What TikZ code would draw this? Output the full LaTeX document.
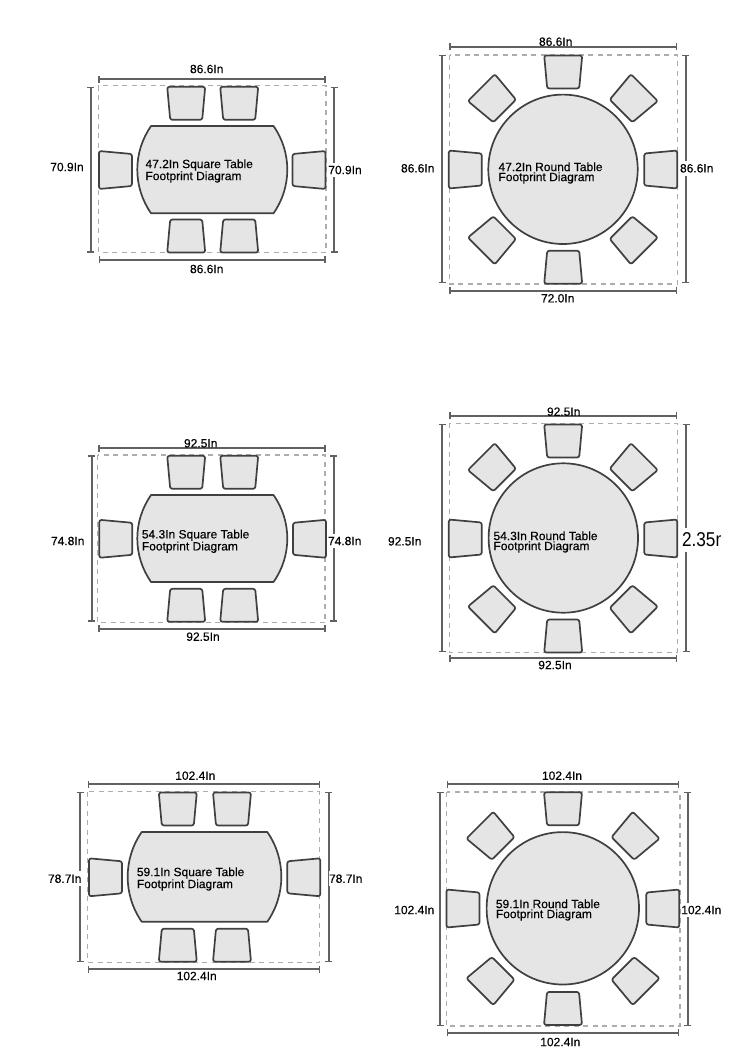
\documentclass[tikz,border=0pt]{standalone}
\usepackage{fontspec}
\setmainfont{Liberation Sans}
\newfontfamily\lblfont[FakeBold=0.25]{Liberation Sans}
\usetikzlibrary{arrows.meta}
\tikzset{
  x=1pt,y=-1pt,
  furn/.style={draw=black!75,fill=black!10,line width=1.7pt,line join=round},
  seat/.style={furn,rounded corners=2.2pt},
  frameline/.style={draw=black!32,line width=1.5pt,dash pattern=on 5pt off 4.5pt},
  dimline/.style={draw=black!62,line width=1.8pt,{Bar[width=7pt,line width=1.4pt]}-{Bar[width=7pt,line width=1.4pt]}},
  dimtext/.style={font=\lblfont\fontsize{12}{12}\selectfont,text=black,inner sep=0.5pt},
  sidetext/.style={dimtext,fill=white,inner ysep=3pt},
  squaretext/.style={anchor=west,align=left,inner sep=0pt,text=black,font=\lblfont\fontsize{12}{12}\selectfont},
  roundtext/.style={anchor=west,align=left,inner sep=0pt,text=black,font=\lblfont\fontsize{12}{10}\selectfont},
}
\newcommand{\seatat}[3]{%
  \begin{scope}[shift={(#1,#2)},rotate=#3]
    \path[seat] (-19,-16.5) -- (19,-16.5) -- (16,16.5) -- (-16,16.5) -- cycle;
  \end{scope}}
% frame: x1 x2 y1 y2
\newcommand{\footframe}[4]{\draw[frameline] (#1,#3) rectangle (#2,#4);}
% name, x1, x2, y
\newcommand{\hdim}[4]{%
  \coordinate (#1a) at (#2,#4);
  \coordinate (#1b) at (#3,#4);
  \draw[dimline] (#1a) -- (#1b);}
% name, x, y1, y2
\newcommand{\vdim}[4]{%
  \coordinate (#1a) at (#2,#3);
  \coordinate (#1b) at (#2,#4);
  \draw[dimline] (#1a) -- (#1b);}
% square table: name, cx, y1, y2, half flat, half extreme control
\newcommand{\longtable}[6]{%
  \path[furn] (#2-#5,#3) -- (#2+#5,#3)
    .. controls (#2+#6,#3+0.30*#4-0.30*#3) and (#2+#6,#3+0.70*#4-0.70*#3) .. (#2+#5,#4)
    -- (#2-#5,#4)
    .. controls (#2-#6,#3+0.70*#4-0.70*#3) and (#2-#6,#3+0.30*#4-0.30*#3) .. (#2-#5,#3) -- cycle;}
\begin{document}
\begin{tikzpicture}
\path[use as bounding box,fill=white] (0,0) rectangle (750,1060);

%% ---------- Square 47.2
\footframe{98.3}{326}{85.7}{252.5}
\hdim{sa1t}{98.3}{325.7}{79.3}
\hdim{sa1b}{98.7}{325.7}{259.7}
\vdim{sa1l}{90.7}{86.7}{252.7}
\vdim{sa1r}{334.3}{87}{252.7}
\seatat{186.2}{103.3}{0}\seatat{239.2}{103.3}{0}
\seatat{186.2}{236}{180}\seatat{239.2}{236}{180}
\seatat{115.5}{170}{90}\seatat{309}{170}{-90}
\longtable{sa1}{212.3}{126}{213.3}{61.2}{79.6}
\node[squaretext] (sa1txt) at (145.3,171) {47.2In Square Table\\Footprint Diagram};
\node[dimtext] (sa1lt) at (206.7,69) {86.6In};
\node[dimtext] (sa1lb) at (206.7,269) {86.6In};
\node[sidetext] (sa1ll) at (67,167) {70.9In};
\node[sidetext] (sa1lr) at (345,170) {70.9In};

%% ---------- Round 47.2
\footframe{449.7}{677.3}{55}{284}
\hdim{ra1t}{449.3}{677}{46.7}
\hdim{ra1b}{449.3}{677}{290.7}
\vdim{ra1l}{442.3}{55}{283.3}
\vdim{ra1r}{685.7}{55}{283.3}
\seatat{563.2}{72}{0}\seatat{563.2}{267.2}{180}
\seatat{465.3}{169.5}{90}\seatat{660.7}{169.5}{-90}
\seatat{493}{99.3}{45}\seatat{632.7}{99.3}{-45}
\seatat{493}{239.3}{135}\seatat{632.7}{239.3}{-135}
\node[furn,circle,minimum size=149.4pt,inner sep=0pt] (ra1) at (563,169.3) {};
\node[roundtext] (ra1txt) at (498.3,173) {47.2In Round Table\\Footprint Diagram};
\node[dimtext] (ra1lt) at (555.7,41.7) {86.6In};
\node[dimtext] (ra1lb) at (557.7,298.3) {72.0In};
\node[sidetext] (ra1ll) at (417.7,168.3) {86.6In};
\node[sidetext] (ra1lr) at (696.7,168.3) {86.6In};

%% ---------- Square 54.3
\footframe{97.7}{325}{455}{622.7}
\hdim{sb1t}{98.3}{325.7}{448}
\hdim{sb1b}{98.3}{325.7}{628.7}
\vdim{sb1l}{91.7}{455.3}{621.7}
\vdim{sb1r}{333.7}{455.3}{621.7}
\seatat{186.2}{472.3}{0}\seatat{239.2}{472.3}{0}
\seatat{186.2}{605.3}{180}\seatat{239.2}{605.3}{180}
\seatat{115.8}{538.8}{90}\seatat{309.5}{538.8}{-90}
\longtable{sb1}{212.3}{495}{582}{61.2}{79.6}
\node[squaretext] (sb1txt) at (141.7,541.3) {54.3In Square Table\\Footprint Diagram};
\node[dimtext] (sb1lt) at (200.7,443.3) {92.5In};
\node[dimtext] (sb1lb) at (203,636.7) {92.5In};
\node[sidetext] (sb1ll) at (67.7,541) {74.8In};
\node[sidetext] (sb1lr) at (344.7,541) {74.8In};

%% ---------- Round 54.3
\footframe{449.3}{677.3}{423.3}{652.3}
\hdim{rb1t}{449.3}{677}{415.7}
\hdim{rb1b}{449.3}{677}{658.3}
\vdim{rb1l}{442}{424}{652}
\vdim{rb1r}{686}{424}{652}
\seatat{563.2}{441}{0}\seatat{563.2}{636}{180}
\seatat{465.3}{538.5}{90}\seatat{660.7}{538.5}{-90}
\seatat{493}{468.3}{45}\seatat{632.7}{468.3}{-45}
\seatat{493}{608.3}{135}\seatat{632.7}{608.3}{-135}
\node[furn,circle,minimum size=149.4pt,inner sep=0pt] (rb1) at (563.3,538) {};
\node[roundtext] (rb1txt) at (493.3,542) {54.3In Round Table\\Footprint Diagram};
\node[dimtext] (rb1lt) at (563.7,411.7) {92.5In};
\node[dimtext] (rb1lb) at (555,665) {92.5In};
\node[sidetext] (rb1ll) at (404.7,541.3) {92.5In};
\begin{scope}
  \clip (679,515) rectangle (720.5,560);
  \node[anchor=west,fill=white,inner xsep=1pt,inner ysep=5pt,xscale=0.86,text=black,font=\fontsize{20}{20}\selectfont] (rb1lr) at (681,540) {2.35m};
\end{scope}

%% ---------- Square 59.1
\footframe{87.7}{319.3}{791.7}{962.3}
\hdim{sc1t}{87.7}{320}{784}
\hdim{sc1b}{88}{320}{969}
\vdim{sc1l}{80}{791.7}{962}
\vdim{sc1r}{328.7}{791.7}{962}
\seatat{177.8}{809}{0}\seatat{232}{809}{0}
\seatat{177.8}{945.2}{180}\seatat{232}{945.2}{180}
\seatat{105.5}{877.3}{90}\seatat{303.8}{877.3}{-90}
\longtable{sc1}{204.5}{832}{921.7}{62.8}{81.5}
\node[squaretext] (sc1txt) at (136.7,879) {59.1In Square Table\\Footprint Diagram};
\node[dimtext] (sc1lt) at (195.3,775.7) {102.4In};
\node[dimtext] (sc1lb) at (196.7,976) {102.4In};
\node[sidetext] (sc1ll) at (64.7,878.7) {78.7In};
\node[sidetext] (sc1lr) at (345.7,878.7) {78.7In};

%% ---------- Round 59.1
\footframe{446.7}{680}{792}{1026}
\hdim{rc1t}{447}{679.3}{784}
\hdim{rc1b}{447}{679.3}{1032.7}
\vdim{rc1l}{440}{792}{1026}
\vdim{rc1r}{687.7}{792}{1026}
\seatat{563}{808.8}{0}\seatat{563}{1008.4}{180}
\seatat{463}{908.5}{90}\seatat{662.8}{908.5}{-90}
\seatat{491.5}{836.8}{45}\seatat{634.5}{836.8}{-45}
\seatat{491.5}{980}{135}\seatat{634.5}{980}{-135}
\node[furn,circle,minimum size=152.4pt,inner sep=0pt] (rc1) at (562.8,908.3) {};
\node[roundtext] (rc1txt) at (495.7,910) {59.1In Round Table\\Footprint Diagram};
\node[dimtext] (rc1lt) at (562,775.7) {102.4In};
\node[dimtext] (rc1lb) at (560.3,1042) {102.4In};
\node[sidetext] (rc1ll) at (414.3,910) {102.4In};
\node[sidetext] (rc1lr) at (701.3,910) {102.4In};
\end{tikzpicture}
\end{document}
